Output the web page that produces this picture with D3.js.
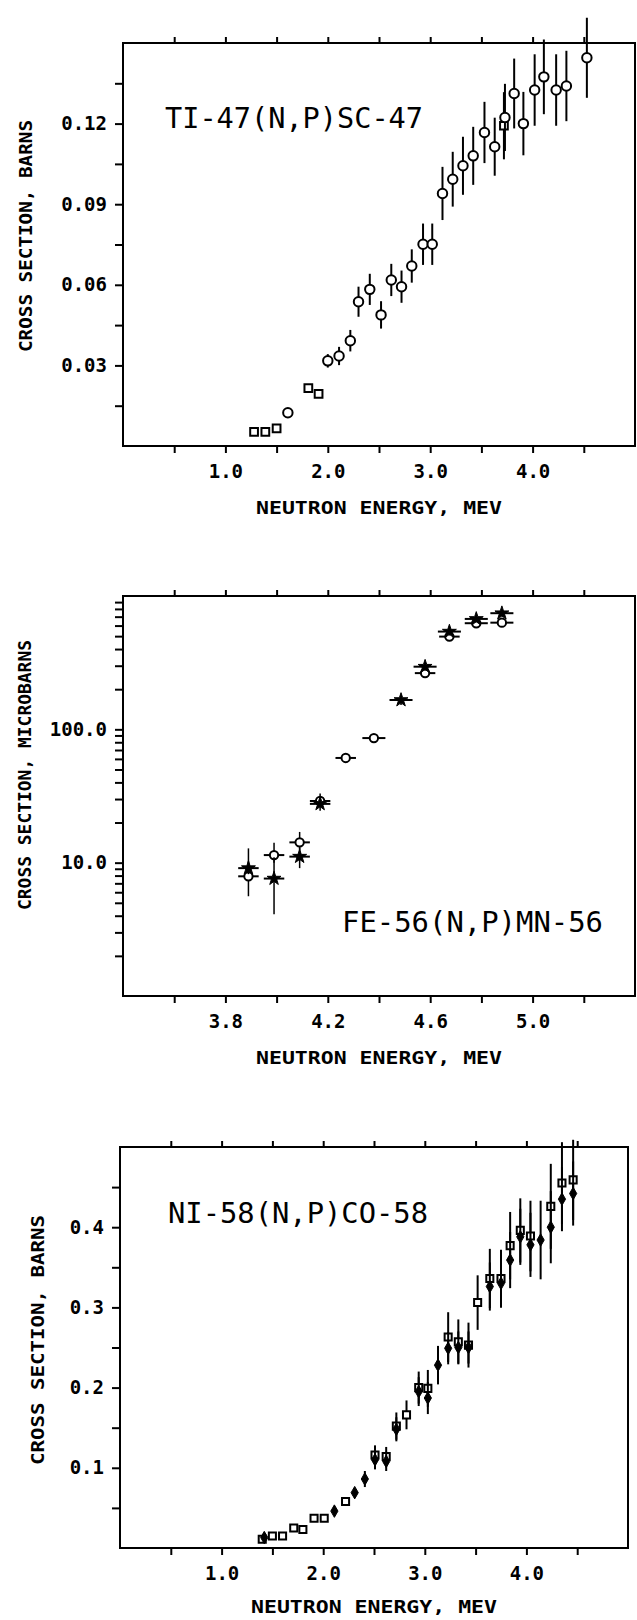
<!DOCTYPE html>
<html><head><meta charset="utf-8">
<script src="https://cdn.jsdelivr.net/npm/d3@7"></script>
<style>
body{margin:0;background:#fff;overflow:hidden}
svg{display:block}
text{font-family:"DejaVu Sans Mono",monospace;fill:#000}
</style>
</head><body><svg id="c" width="637" height="1620"></svg>
<script>
// ---------- Panel 1: TI-47(N,P)SC-47 ----------
const tiSquareE   = [1.28, 1.39, 1.50, 1.81, 1.91, 3.72];
const tiSquareV   = [0.0053, 0.0053, 0.0066, 0.0215, 0.0194, 0.1192];
const tiSquareErr = [0, 0, 0, 0, 0, 0.0125];
const tiCircleE   = [1.61, 2.00, 2.11, 2.22, 2.30, 2.41, 2.52, 2.62, 2.72, 2.82, 2.93, 3.02, 3.12, 3.22, 3.32, 3.42, 3.53, 3.63, 3.73, 3.82, 3.91, 4.02, 4.11, 4.23, 4.33, 4.53];
const tiCircleV   = [0.0124, 0.0317, 0.0335, 0.0392, 0.0537, 0.0583, 0.0488, 0.0618, 0.0593, 0.0670, 0.0751, 0.0751, 0.0940, 0.0993, 0.1043, 0.1080, 0.1167, 0.1114, 0.1223, 0.1312, 0.1200, 0.1325, 0.1374, 0.1325, 0.1340, 0.1445];
const tiCircleErr = [0.0010, 0.0025, 0.0034, 0.0040, 0.0056, 0.0058, 0.0051, 0.0060, 0.0060, 0.0062, 0.0077, 0.0077, 0.0099, 0.0102, 0.0108, 0.0108, 0.0114, 0.0108, 0.0125, 0.0130, 0.0118, 0.0133, 0.0139, 0.0133, 0.0131, 0.0149];
const tiXTicks      = [0.5, 1.0, 1.5, 2.0, 2.5, 3.0, 3.5, 4.0, 4.5];
const tiXTickLabels = ['', '1.0', '', '2.0', '', '3.0', '', '4.0', ''];
const tiYTicks      = [0.015, 0.03, 0.045, 0.06, 0.075, 0.09, 0.105, 0.12, 0.135];
const tiYTickLabels = ['', '0.03', '', '0.06', '', '0.09', '', '0.12', ''];

// ---------- Panel 2: FE-56(N,P)MN-56 ----------
const feOpenE   = [3.89, 3.99, 4.09, 4.17, 4.27, 4.38, 4.58, 4.675, 4.78, 4.88];
const feOpenV   = [7.9, 11.4, 14.2, 29, 61, 86, 264, 496, 625, 631];
const feOpenLo  = [5.6, 10.0, 12.5, 26, 57, 81, 248, 465, 590, 595];
const feOpenHi  = [12.8, 14.1, 17.0, 33, 66, 92, 282, 530, 665, 670];
const feOpenDE  = [0.04, 0.04, 0.04, 0.04, 0.04, 0.045, 0.04, 0.04, 0.045, 0.045];
const feFillE   = [3.89, 3.99, 4.09, 4.17, 4.486, 4.58, 4.675, 4.78, 4.88];
const feFillV   = [9.1, 7.6, 11.1, 27.6, 166, 295, 541, 673, 743];
const feFillLo  = [8.2, 4.1, 9.1, 24.5, 152, 275, 505, 635, 705];
const feFillHi  = [10.2, 11.0, 13.0, 31.0, 180, 318, 580, 712, 785];
const feFillDE  = [0.04, 0.04, 0.04, 0.04, 0.045, 0.045, 0.045, 0.045, 0.045];
const feXTicks      = [3.6, 3.8, 4.0, 4.2, 4.4, 4.6, 4.8, 5.0, 5.2];
const feXTickLabels = ['', '3.8', '', '4.2', '', '4.6', '', '5.0', ''];
const feYTicks      = [2, 3, 4, 5, 6, 7, 8, 9, 10, 20, 30, 40, 50, 60, 70, 80, 90, 100, 200, 300, 400, 500, 600, 700, 800, 900];
const feYTickLabels = ['', '', '', '', '', '', '', '', '10.0', '', '', '', '', '', '', '', '', '100.0', '', '', '', '', '', '', '', ''];

// ---------- Panel 3: NI-58(N,P)CO-58 ----------
const niOpenE   = [1.40, 1.50, 1.60, 1.71, 1.80, 1.91, 2.01, 2.22, 2.51, 2.62, 2.72, 2.82, 2.94, 3.03, 3.23, 3.33, 3.43, 3.52, 3.64, 3.75, 3.84, 3.94, 4.04, 4.24, 4.35, 4.46];
const niOpenV   = [0.011, 0.015, 0.015, 0.025, 0.023, 0.037, 0.037, 0.058, 0.116, 0.114, 0.152, 0.166, 0.200, 0.199, 0.263, 0.257, 0.253, 0.306, 0.336, 0.336, 0.377, 0.396, 0.389, 0.426, 0.455, 0.459];
const niOpenErr = [0, 0, 0, 0, 0, 0, 0, 0.004, 0.012, 0.012, 0.017, 0.018, 0.020, 0.023, 0.031, 0.028, 0.028, 0.034, 0.037, 0.036, 0.042, 0.040, 0.044, 0.053, 0.051, 0.050];
const niFillE   = [1.42, 2.11, 2.31, 2.41, 2.51, 2.62, 2.72, 2.94, 3.03, 3.13, 3.23, 3.33, 3.43, 3.64, 3.75, 3.84, 3.94, 4.04, 4.14, 4.24, 4.35, 4.46];
const niFillV   = [0.013, 0.046, 0.069, 0.086, 0.110, 0.108, 0.148, 0.195, 0.187, 0.228, 0.249, 0.250, 0.250, 0.326, 0.330, 0.359, 0.388, 0.378, 0.384, 0.400, 0.435, 0.442];
const niFillErr = [0, 0.004, 0.005, 0.010, 0.012, 0.012, 0.015, 0.018, 0.020, 0.024, 0.020, 0.020, 0.020, 0.030, 0.030, 0.035, 0.035, 0.040, 0.049, 0.045, 0.040, 0.040];
const niXTicks      = [0.5, 1.0, 1.5, 2.0, 2.5, 3.0, 3.5, 4.0, 4.5];
const niXTickLabels = ['', '1.0', '', '2.0', '', '3.0', '', '4.0', ''];
const niYTicks      = [0.05, 0.1, 0.15, 0.2, 0.25, 0.3, 0.35, 0.4, 0.45];
const niYTickLabels = ['', '0.1', '', '0.2', '', '0.3', '', '0.4', ''];

const xTitle = 'NEUTRON ENERGY, MEV';

const svg = d3.select('#c');
svg.append('rect').attr('width', 637).attr('height', 1620).attr('fill', '#fff');

function panel(c) {
  const x = d3.scaleLinear().domain(c.xDomain).range([c.left, c.right]);
  const y = (c.log ? d3.scaleLog() : d3.scaleLinear()).domain(c.yDomain).range([c.bottom, c.top]);
  const g = svg.append('g');

  const styleAxis = a => {
    a.select('.domain').remove();
    a.selectAll('.tick line').attr('stroke', '#000').attr('stroke-width', 2);
    a.selectAll('text').attr('font-family', '"DejaVu Sans Mono", monospace')
      .attr('font-size', 19).attr('font-weight', 'bold').attr('fill', '#000');
  };

  g.append('g').attr('transform', `translate(0,${c.bottom})`)
    .call(d3.axisBottom(x).tickValues(c.xTicks).tickSize(7).tickPadding(12)
      .tickFormat((d, i) => c.xTickLabels[i]))
    .call(styleAxis);
  g.append('g').attr('transform', `translate(0,${c.top})`)
    .call(d3.axisTop(x).tickValues(c.xTicks).tickSize(6).tickFormat(''))
    .call(styleAxis);
  g.append('g').attr('transform', `translate(${c.left},0)`)
    .call(d3.axisLeft(y).tickValues(c.yTicks).tickSize(8).tickPadding(8)
      .tickFormat((d, i) => c.yTickLabels[i]))
    .call(styleAxis);

  g.append('rect').attr('x', c.left).attr('y', c.top)
    .attr('width', c.right - c.left).attr('height', c.bottom - c.top)
    .attr('fill', 'none').attr('stroke', '#000').attr('stroke-width', 2);

  // reaction title
  g.append('text').attr('x', c.titleX).attr('y', c.titleY)
    .attr('font-size', 29).attr('textLength', c.titleLen).attr('lengthAdjust', 'spacingAndGlyphs')
    .text(c.title);

  // axis titles
  g.append('text').attr('x', (c.left + c.right) / 2).attr('y', c.bottom + c.xTitleDy)
    .attr('text-anchor', 'middle').attr('font-size', 17).attr('font-weight', 'bold')
    .attr('textLength', 246).attr('lengthAdjust', 'spacingAndGlyphs').text(xTitle);
  g.append('text')
    .attr('transform', `translate(${c.yTitleX},${c.yTitleY}) rotate(-90)`)
    .attr('text-anchor', 'middle').attr('font-size', 17).attr('font-weight', 'bold')
    .attr('textLength', c.yTitleLen).attr('lengthAdjust', 'spacingAndGlyphs').text(c.yTitle);

  // series
  c.series.forEach(s => {
    const pts = s.E.map((e, i) => ({e, v: s.V[i], lo: s.lo[i], hi: s.hi[i], de: s.dE ? s.dE[i] : 0}));
    const sg = g.append('g');
    sg.selectAll('line.v').data(pts.filter(p => p.hi > p.lo)).join('line')
      .attr('x1', p => x(p.e)).attr('x2', p => x(p.e))
      .attr('y1', p => y(p.lo)).attr('y2', p => y(p.hi))
      .attr('stroke', '#000').attr('stroke-width', s.ew);
    sg.selectAll('line.h').data(pts.filter(p => p.de > 0)).join('line')
      .attr('x1', p => x(p.e - p.de)).attr('x2', p => x(p.e + p.de))
      .attr('y1', p => y(p.v)).attr('y2', p => y(p.v))
      .attr('stroke', '#000').attr('stroke-width', 2);
    sg.selectAll('path').data(pts).join('path')
      .attr('transform', p => `translate(${x(p.e)},${y(p.v)})`)
      .attr('d', d3.symbol().type(s.sym).size(s.size))
      .attr('fill', s.filled ? '#000' : '#fff')
      .attr('stroke', '#000').attr('stroke-width', s.filled ? 1 : 2);
  });
}

const sub = (a, b) => a.map((v, i) => v - b[i]);
const add = (a, b) => a.map((v, i) => v + b[i]);

panel({
  left: 123, right: 635, top: 43, bottom: 446,
  xDomain: [0, 5], yDomain: [0, 0.15], log: false,
  xTicks: tiXTicks, xTickLabels: tiXTickLabels, yTicks: tiYTicks, yTickLabels: tiYTickLabels,
  title: 'TI-47(N,P)SC-47', titleX: 165, titleY: 128, titleLen: 258,
  xTitleDy: 68,
  yTitle: 'CROSS SECTION, BARNS', yTitleX: 32, yTitleY: 236, yTitleLen: 232,
  series: [
    {E: tiSquareE, V: tiSquareV, lo: sub(tiSquareV, tiSquareErr), hi: add(tiSquareV, tiSquareErr), sym: d3.symbolSquare, size: 60, filled: false, ew: 2},
    {E: tiCircleE, V: tiCircleV, lo: sub(tiCircleV, tiCircleErr), hi: add(tiCircleV, tiCircleErr), sym: d3.symbolCircle, size: 70, filled: false, ew: 2}
  ]
});

panel({
  left: 123, right: 635, top: 596, bottom: 996,
  xDomain: [3.4, 5.4], yDomain: [1, 1000], log: true,
  xTicks: feXTicks, xTickLabels: feXTickLabels, yTicks: feYTicks, yTickLabels: feYTickLabels,
  title: 'FE-56(N,P)MN-56', titleX: 342, titleY: 932, titleLen: 261,
  xTitleDy: 68,
  yTitle: 'CROSS SECTION, MICROBARNS', yTitleX: 31, yTitleY: 775, yTitleLen: 270,
  series: [
    {E: feOpenE, V: feOpenV, lo: feOpenLo, hi: feOpenHi, dE: feOpenDE, sym: d3.symbolCircle, size: 55, filled: false, ew: 1.5},
    {E: feFillE, V: feFillV, lo: feFillLo, hi: feFillHi, dE: feFillDE, sym: d3.symbolStar, size: 60, filled: true, ew: 1.5}
  ]
});

panel({
  left: 120, right: 628, top: 1147, bottom: 1548,
  xDomain: [0, 5], yDomain: [0, 0.5], log: false,
  xTicks: niXTicks, xTickLabels: niXTickLabels, yTicks: niYTicks, yTickLabels: niYTickLabels,
  title: 'NI-58(N,P)CO-58', titleX: 168, titleY: 1223, titleLen: 260,
  xTitleDy: 65,
  yTitle: 'CROSS SECTION, BARNS', yTitleX: 44, yTitleY: 1340, yTitleLen: 250,
  series: [
    {E: niOpenE, V: niOpenV, lo: sub(niOpenV, niOpenErr), hi: add(niOpenV, niOpenErr), sym: d3.symbolSquare, size: 50, filled: false, ew: 2},
    {E: niFillE, V: niFillV, lo: sub(niFillV, niFillErr), hi: add(niFillV, niFillErr), sym: d3.symbolDiamond, size: 45, filled: true, ew: 2}
  ]
});
</script></body></html>
